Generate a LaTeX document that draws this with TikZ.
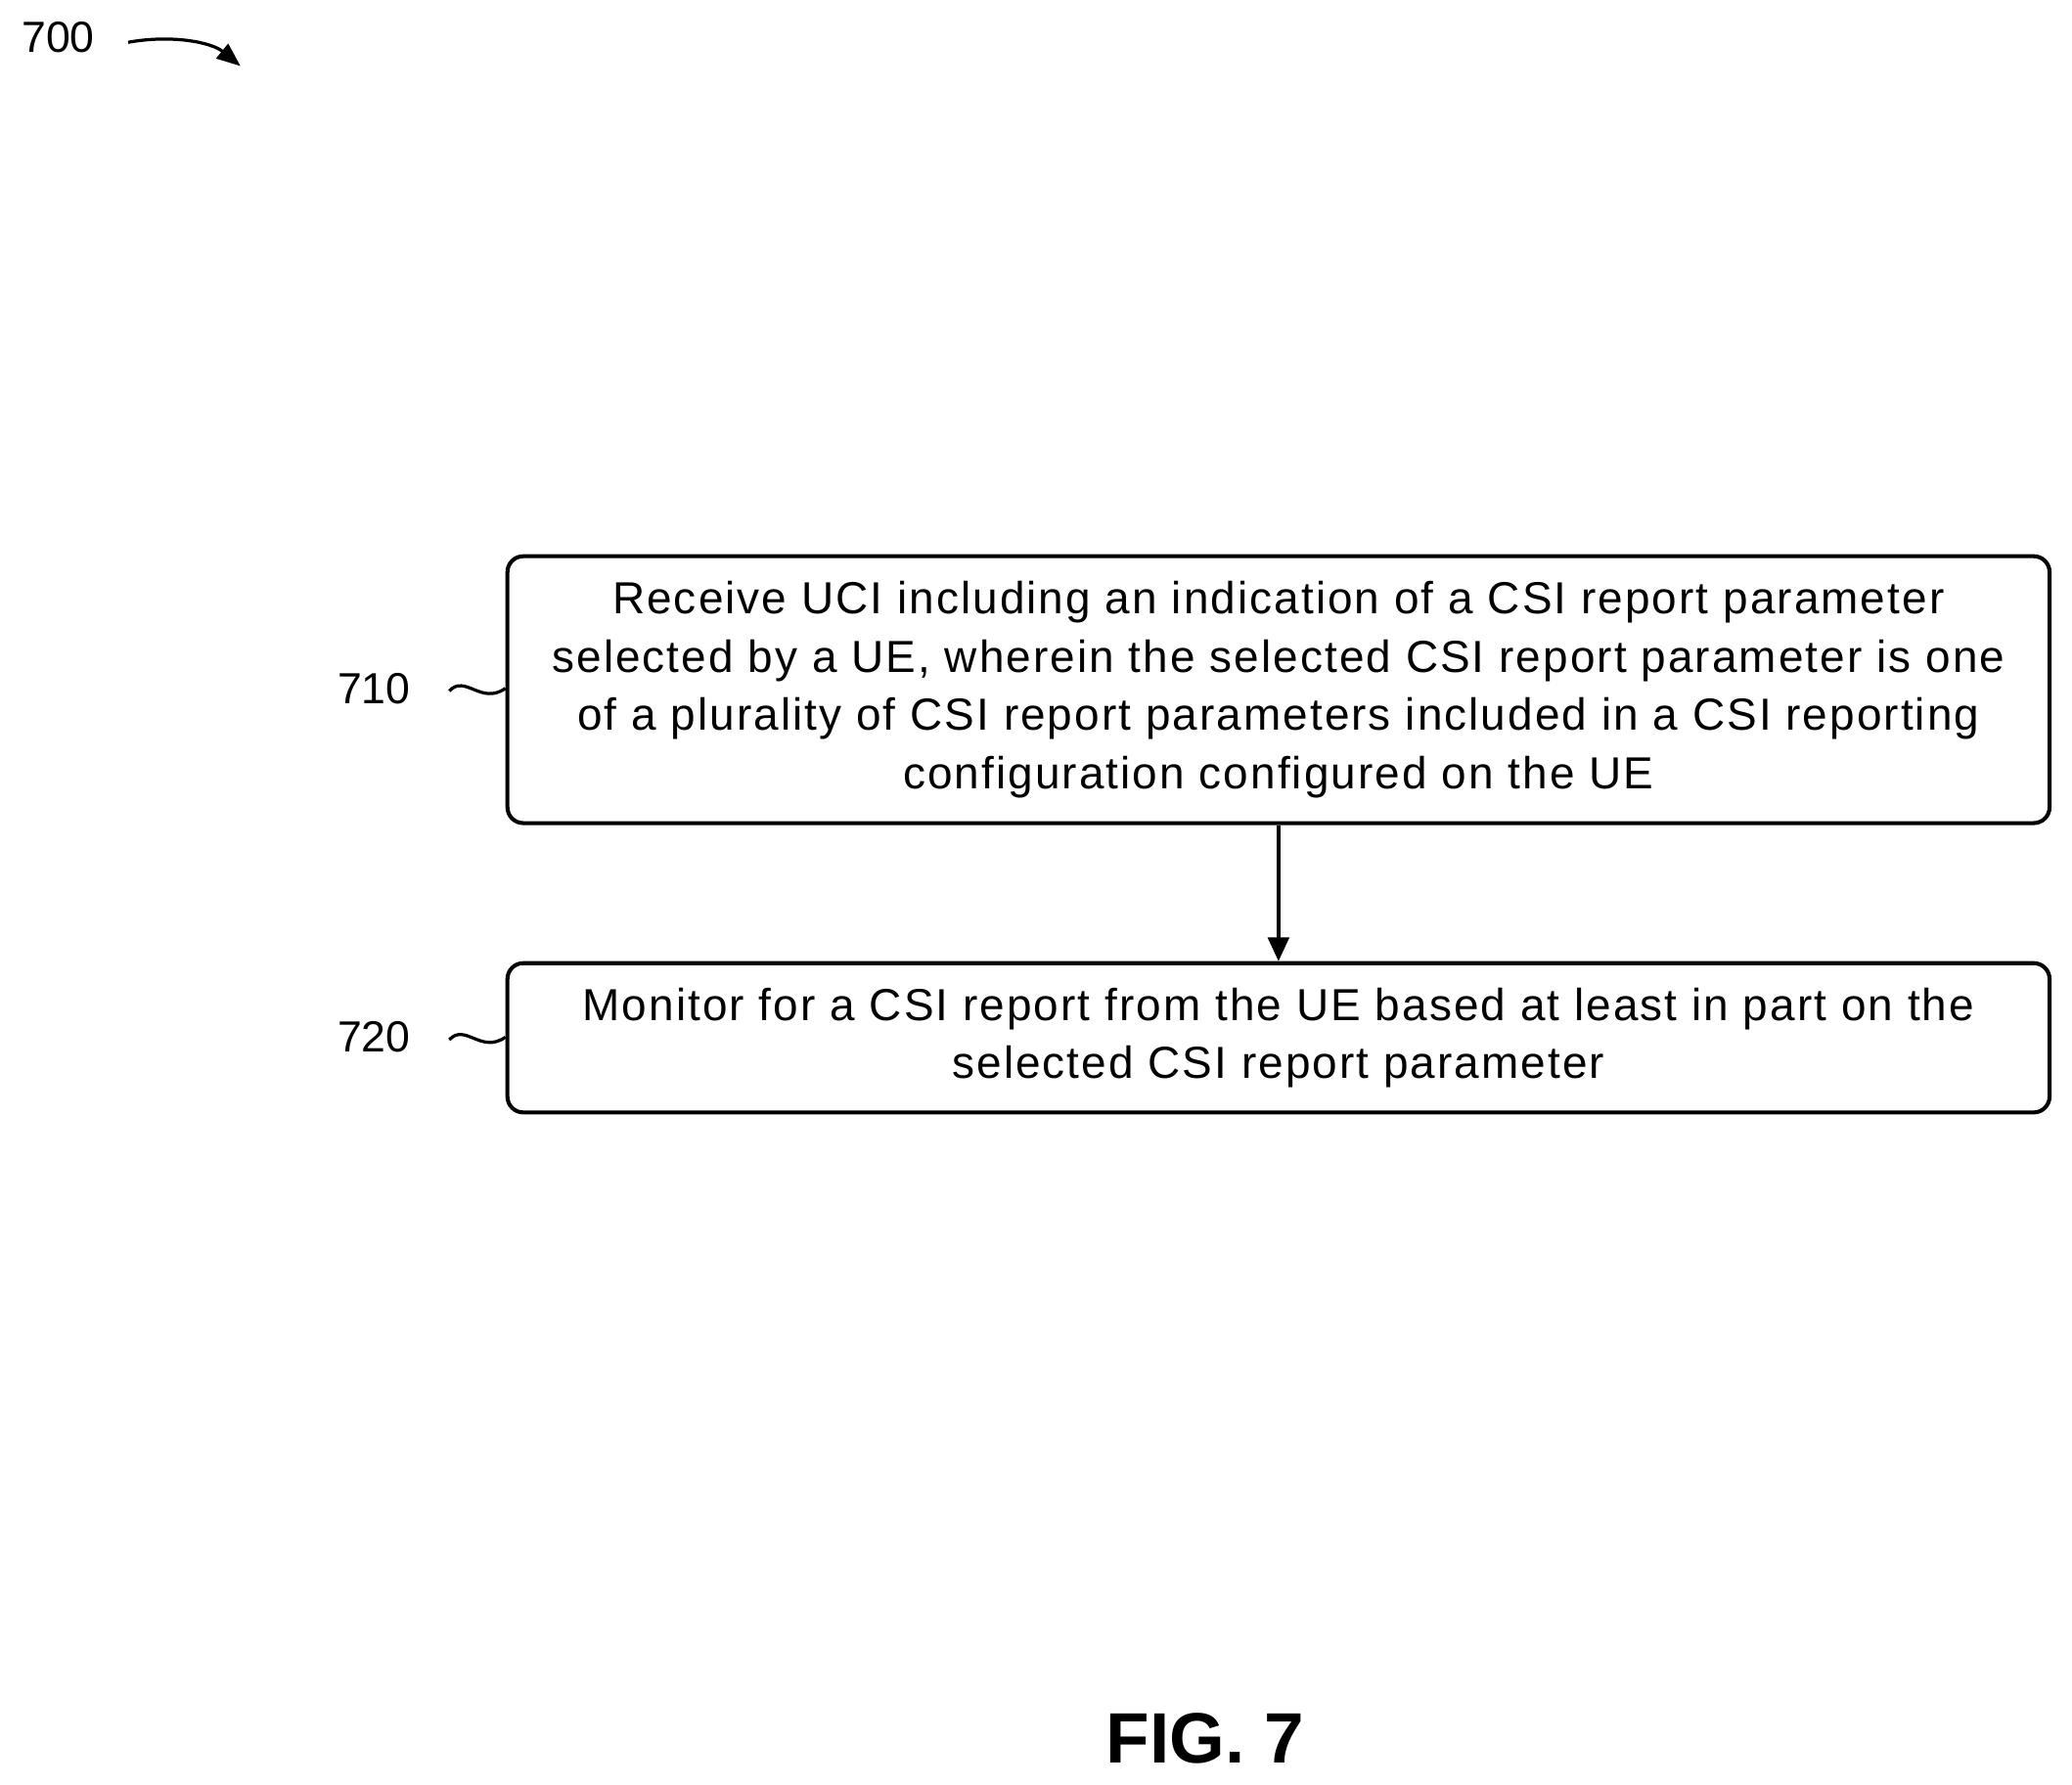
\documentclass[tikz,border=0pt]{standalone}
\usepackage{fontspec}
\setmainfont{Liberation Sans}
\usetikzlibrary{positioning,arrows.meta}
\tikzset{
  flowbox/.style={draw,line width=1.5pt,rounded corners=6pt,minimum width=583.5pt,align=center,font=\fontsize{17}{22}\selectfont\addfontfeature{LetterSpace=4.5},inner sep=0pt},
  ref/.style={font=\fontsize{16.5}{19}\selectfont},
  squig/.style={line width=1.2pt}
}
\begin{document}
\begin{tikzpicture}[x=0.5pt,y=-0.5pt]
	\useasboundingbox (0,0) rectangle (1568,1351);
	% boxes
	\node[flowbox,minimum height=101pt] (s710) at (967.5,522) {Receive UCI including an indication of a CSI report parameter\\selected by a UE, wherein the selected CSI report parameter is one\\of a plurality of CSI report parameters included in a CSI reporting\\configuration configured on the UE};
	\node[flowbox,minimum height=56.5pt] (s720) at (967.5,785.5) {Monitor for a CSI report from the UE based at least in part on the\\selected CSI report parameter};
	\draw[line width=1.2pt,-{Triangle[length=9pt,width=8pt]}] (s710) -- (s720);
	% reference numerals
	\node[ref] (n710) at (283,521) {710};
	\node[ref] (n720) at (283,785) {720};
	\draw[squig] (340,523) .. controls (352,510) and (364,534) .. (s710.west |- 0,521);
	\draw[squig] (340,787) .. controls (352,774) and (364,798) .. (s720.west |- 0,785);
	\node[ref] (n700) at (44,28) {700};
	\coordinate (a700) at (182,50);
	\draw[line width=1.2pt,-{Triangle[length=9pt,width=7pt]}] (97,32) .. controls (130,26) and (160,32) .. (a700);
	\node[font=\bfseries\fontsize{27}{30}\selectfont] (fig) at (912,1316) {FIG. 7};
\end{tikzpicture}
\end{document}
